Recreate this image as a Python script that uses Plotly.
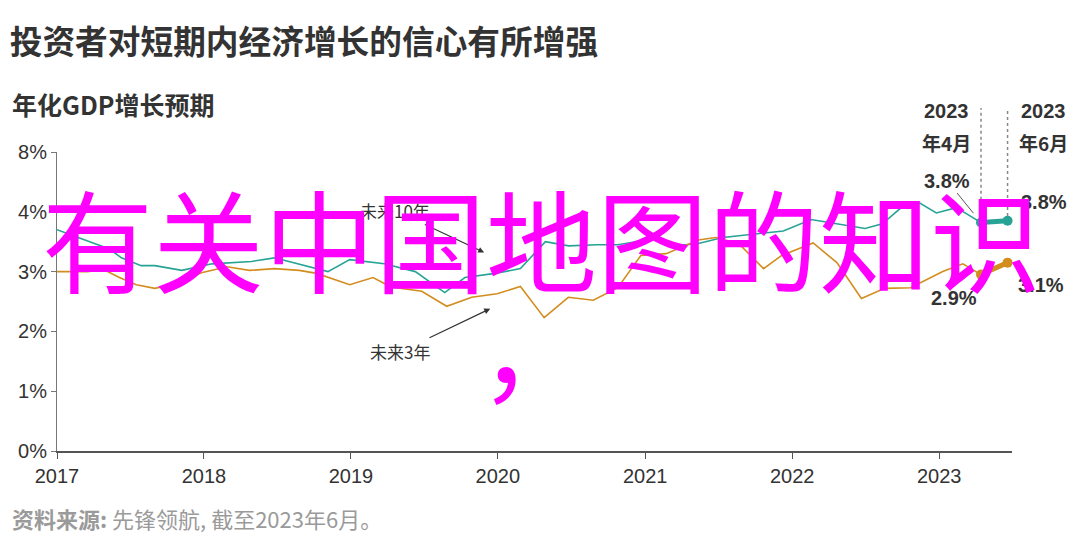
import plotly.graph_objects as go

# ---------------- data ----------------
ten_year_dates = [
    "2017-01-01", "2017-05-11", "2017-06-10", "2017-07-29", "2017-09-01", "2017-11-07",
    "2018-01-21", "2018-03-17", "2018-04-29", "2018-06-25", "2018-11-05", "2018-12-29",
    "2019-03-25", "2019-06-10", "2019-08-22", "2019-10-11", "2019-12-25", "2020-02-26",
    "2020-04-28", "2020-06-25", "2020-09-01", "2020-10-25", "2021-01-22", "2021-03-16",
    "2021-05-13", "2021-07-13", "2021-09-25", "2021-12-10", "2022-02-17", "2022-04-25",
    "2022-07-01", "2022-08-13", "2022-10-04", "2022-11-13", "2022-12-25", "2023-02-13",
    "2023-04-15",
]
ten_year_values = [
    3.70, 3.38, 3.23, 3.10, 3.10, 3.02,
    3.13, 3.15, 3.17, 3.23, 3.00, 3.20,
    3.13, 3.00, 2.65, 2.90, 2.97, 3.05,
    3.50, 3.43, 3.45, 3.45, 3.55, 3.43,
    3.47, 3.57, 3.63, 3.68, 3.87, 3.80,
    3.72, 3.80, 4.10, 4.15, 3.98, 4.07,
    3.82,
]
three_year_dates = [
    "2017-01-01", "2017-03-17", "2017-04-28", "2017-06-05", "2017-07-17", "2017-09-01",
    "2017-10-12", "2017-12-26", "2018-02-27", "2018-04-24", "2018-06-25", "2018-08-26",
    "2018-10-08", "2018-12-29", "2019-02-25", "2019-03-25", "2019-04-24", "2019-06-26",
    "2019-08-27", "2019-10-28", "2019-12-30", "2020-02-26", "2020-04-25", "2020-06-24",
    "2020-08-25", "2020-10-25", "2020-12-21", "2021-02-22", "2021-05-13", "2021-06-25",
    "2021-08-21", "2021-10-22", "2021-12-06", "2022-02-22", "2022-04-22", "2022-06-22",
    "2022-08-19", "2022-10-22", "2023-01-10", "2023-03-01", "2023-04-15",
]
three_year_values = [
    3.00, 3.00, 3.03, 2.90, 2.78, 2.72,
    2.78, 2.98, 3.08, 3.02, 3.05, 3.02,
    2.97, 2.78, 2.90, 2.80, 2.73, 2.67,
    2.42, 2.57, 2.63, 2.75, 2.23, 2.57,
    2.52, 2.73, 3.27, 3.30, 3.53, 3.57,
    3.47, 3.05, 3.27, 3.48, 3.15, 2.55,
    2.72, 2.73, 3.00, 3.13, 2.95,
]
# highlighted latest surveys (April & June 2023)
recent_dates = ["2023-04-15", "2023-06-20"]
recent_ten = [3.82, 3.85]
recent_three = [2.95, 3.15]
recent_header = ["年4月", "年6月"]
recent_ten_labels = ["3.8%", "3.8%"]
recent_three_labels = ["2.9%", "3.1%"]

y_tickvals = [0, 1, 2, 3, 4, 5]
y_ticktext = ["0%", "1%", "2%", "3%", "4%", "8%"]

TEAL = "#27a396"
ORANGE = "#d38d1f"
DARK = "#333333"
FONT = "Liberation Sans, Arial, Noto Sans CJK SC, sans-serif"
CJK = "Noto Sans CJK SC, Liberation Sans, sans-serif"

fig = go.Figure()
fig.add_trace(go.Scatter(x=ten_year_dates, y=ten_year_values, mode="lines",
                         line=dict(color=TEAL, width=1.6), hoverinfo="skip"))
fig.add_trace(go.Scatter(x=three_year_dates, y=three_year_values, mode="lines",
                         line=dict(color=ORANGE, width=1.6), hoverinfo="skip"))
fig.add_trace(go.Scatter(x=recent_dates, y=recent_ten, mode="lines+markers",
                         line=dict(color=TEAL, width=5), marker=dict(size=10, color=TEAL),
                         cliponaxis=False, hoverinfo="skip"))
fig.add_trace(go.Scatter(x=recent_dates, y=recent_three, mode="lines+markers",
                         line=dict(color=ORANGE, width=5), marker=dict(size=10, color=ORANGE),
                         cliponaxis=False, hoverinfo="skip"))

ann = []
# dotted guides + header labels
for i, d in enumerate(recent_dates):
    fig.add_shape(type="line", xref="x", yref="paper", x0=d, x1=d,
                  y0=(recent_ten[i] + 0.08) / 5, y1=1.147,
                  line=dict(color="#888888", width=1.5, dash="dot"))
    shift = -35 if i == 0 else 36
    ann.append(dict(x=d, y=1.137, xref="x", yref="paper", xshift=shift, showarrow=False,
                    text="<b>2023</b>", font=dict(family=FONT, size=20, color=DARK),
                    xanchor="center", yanchor="middle"))
    ann.append(dict(x=d, y=1.033, xref="x", yref="paper", xshift=shift, showarrow=False,
                    text="<b>" + recent_header[i] + "</b>", font=dict(family=CJK, size=19, color=DARK),
                    xanchor="center", yanchor="middle"))

# value labels
ann.append(dict(x=recent_dates[0], y=recent_ten[0], xref="x", yref="y", showarrow=True,
                arrowhead=0, arrowwidth=1, arrowcolor="#555555", ax=-34, ay=-42, standoff=12,
                text="<b>" + recent_ten_labels[0] + "</b>", font=dict(family=FONT, size=20, color=DARK)))
ann.append(dict(x=recent_dates[1], y=recent_ten[1], xref="x", yref="y", showarrow=False,
                xshift=36, yshift=19,
                text="<b>" + recent_ten_labels[1] + "</b>", font=dict(family=FONT, size=20, color=DARK)))
ann.append(dict(x=recent_dates[0], y=recent_three[0], xref="x", yref="y", showarrow=False,
                xshift=-27, yshift=-23,
                text="<b>" + recent_three_labels[0] + "</b>", font=dict(family=FONT, size=20, color=DARK)))
ann.append(dict(x=recent_dates[1], y=recent_three[1], xref="x", yref="y", showarrow=False,
                xshift=33, yshift=-22,
                text="<b>" + recent_three_labels[1] + "</b>", font=dict(family=FONT, size=20, color=DARK)))

# series annotations
ann.append(dict(x="2019-11-28", y=3.32, xref="x", yref="y", showarrow=True, arrowhead=2,
                arrowsize=1, arrowwidth=1.2, arrowcolor=DARK, ax=-89, ay=-42,
                text="未来10年", font=dict(family=CJK, size=17, color=DARK)))
ann.append(dict(x="2019-12-13", y=2.38, xref="x", yref="y", showarrow=True, arrowhead=2,
                arrowsize=1, arrowwidth=1.2, arrowcolor=DARK, ax=-90, ay=43,
                text="未来3年", font=dict(family=CJK, size=17, color=DARK)))

# subtitle & source
ann.append(dict(x=-0.049, y=1.1605, xref="paper", yref="paper", showarrow=False,
                xanchor="left", yanchor="middle", text="<b>年化GDP增长预期</b>",
                font=dict(family=CJK, size=25, color=DARK)))
ann.append(dict(x=-0.049, y=-0.224, xref="paper", yref="paper", showarrow=False,
                xanchor="left", yanchor="middle",
                text="<b>资料来源:</b> 先锋领航, 截至2023年6月。",
                font=dict(family=CJK, size=22, color="#9a9a9a")))

# overlay text
ann.append(dict(x=0.507, y=0.718, xref="paper", yref="paper", showarrow=False,
                xanchor="center", yanchor="middle", text="有关中国地图的知识",
                font=dict(family=CJK, size=111, color="#ff00ff")))
ann.append(dict(x=0.5, y=0.355, xref="paper", yref="paper", showarrow=False,
                xanchor="center", yanchor="middle", text="，",
                font=dict(family=CJK, size=111, color="#ff00ff")))

fig.update_layout(
    width=1080, height=556,
    margin=dict(l=57, r=68, t=152, b=105),
    paper_bgcolor="white", plot_bgcolor="white",
    showlegend=False,
    title=dict(text="<b>投资者对短期内经济增长的信心有所增强</b>", x=0.009, xref="container",
               xanchor="left", y=0.923, yref="container", yanchor="middle",
               font=dict(family=CJK, size=32.7, color=DARK)),
    annotations=ann,
    xaxis=dict(type="date", range=["2017-01-01", "2023-07-01"], tick0="2017-01-01", dtick="M12",
               tickformat="%Y", showgrid=False, zeroline=False, showline=True,
               linecolor="#555555", linewidth=2, ticks="outside", ticklen=6, tickcolor="#555555",
               tickfont=dict(family=FONT, size=20, color=DARK)),
    yaxis=dict(range=[0, 5], tickvals=y_tickvals, ticktext=y_ticktext, showgrid=False,
               zeroline=False, showline=True, linecolor="#777777", linewidth=1,
               ticks="outside", ticklen=5, tickcolor="#777777", automargin=False,
               tickfont=dict(family=FONT, size=20, color=DARK)),
)

fig.write_html("out.html", config={"displayModeBar": False},
               post_script="document.body.style.margin='0';")
